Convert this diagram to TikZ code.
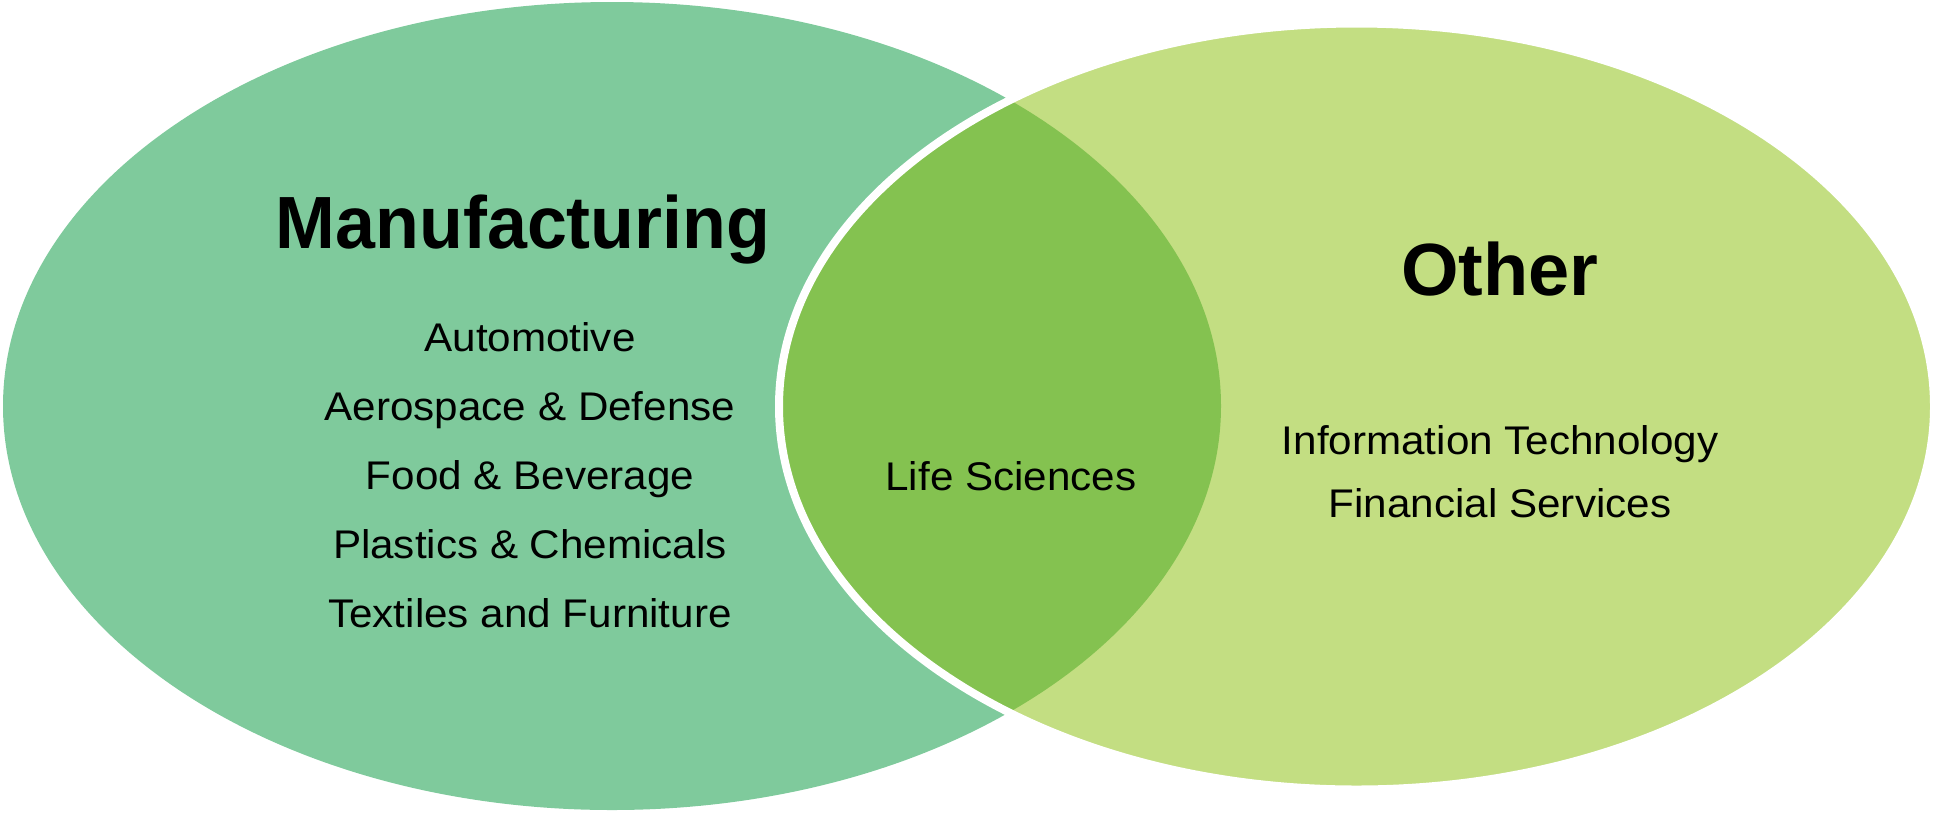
\documentclass[tikz,border=0pt]{standalone}
\usepackage{fontspec}
\setmainfont{Liberation Sans}
\newfontfamily\itemfont[FakeStretch=1.055]{Liberation Sans}
\newfontfamily\titlefont[FakeStretch=0.97]{Liberation Sans}
\definecolor{leftc}{HTML}{7FCA9C}
\definecolor{rightc}{HTML}{C3DE82}
\definecolor{midc}{HTML}{84C250}
\begin{document}
\begin{tikzpicture}[x=1pt,y=-1pt,
  title/.style={inner sep=0pt,anchor=base,font=\fontsize{74}{80}\selectfont\bfseries},
  item/.style={inner sep=0pt,anchor=base,font=\itemfont\fontsize{40}{44}\selectfont}]
\useasboundingbox (0,0) rectangle (1934,812);
\fill[leftc] (612,406) ellipse [x radius=609, y radius=404];
\fill[rightc] (1356.5,406.5) ellipse [x radius=577.5, y radius=383];
\begin{scope}
  \clip (612,406) ellipse [x radius=609, y radius=404];
  \fill[midc] (1356.5,406.5) ellipse [x radius=577.5, y radius=383];
\end{scope}
\draw[white,line width=8pt] (1356.5,406.5) ellipse [x radius=577.5, y radius=383];
\node[title,font=\titlefont\fontsize{74}{80}\selectfont\bfseries] (manu) at (523,248) {Manufacturing};
\node[item] (auto) at (530,351) {Automotive};
\node[item] (aero) at (530,420) {Aerospace \& Defense};
\node[item] (food) at (530,489) {Food \& Beverage};
\node[item] (plas) at (530,558) {Plastics \& Chemicals};
\node[item] (text) at (530,627) {Textiles and Furniture};
\node[item] (life) at (1011,490) {Life Sciences};
\node[title] (other) at (1500,295) {Other};
\node[item] (info) at (1500,454) {Information Technology};
\node[item] (fin) at (1500,517) {Financial Services};
\end{tikzpicture}
\end{document}
